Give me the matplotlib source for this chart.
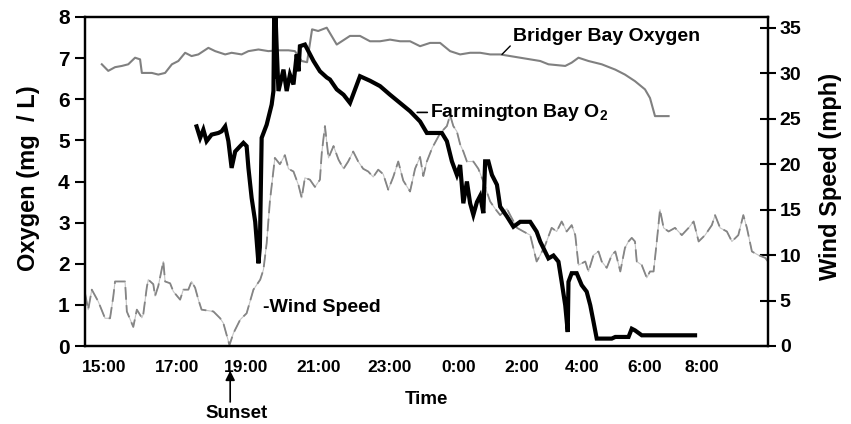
import matplotlib
matplotlib.use("Agg")
import matplotlib.pyplot as plt

plt.rcParams['font.family'] = ['Liberation Sans', 'DejaVu Sans']
plt.rcParams['font.weight'] = 'bold'
plt.rcParams['mathtext.fontset'] = 'custom'
plt.rcParams['mathtext.rm'] = 'Liberation Sans:bold'
plt.rcParams['mathtext.bf'] = 'Liberation Sans:bold'

# time in hours (24+ = after midnight)
bridger_t = [14.94, 15.12, 15.31, 15.50, 15.68, 15.87, 16.01, 16.06, 16.34, 16.52,
             16.71, 16.90, 17.08, 17.27, 17.45, 17.64, 17.92, 18.11, 18.39, 18.57,
             18.85, 19.04, 19.32, 19.60, 19.88, 20.16, 20.34, 20.53, 20.68, 20.82,
             20.99, 21.23, 21.51, 21.88, 22.16, 22.44, 22.72, 23.00, 23.28, 23.56,
             23.84, 24.12, 24.40, 24.68, 24.96, 25.24, 25.52, 25.80, 26.08, 26.36,
             26.64, 26.92, 27.20, 27.43, 27.90, 28.08, 28.27, 28.55, 28.92, 29.30,
             29.57, 29.85, 30.13, 30.27, 30.41, 30.79]
bridger_o2 = [6.85, 6.69, 6.78, 6.81, 6.85, 7.01, 6.97, 6.64, 6.64, 6.60,
              6.64, 6.85, 6.93, 7.13, 7.05, 7.09, 7.25, 7.17, 7.09, 7.13,
              7.09, 7.17, 7.21, 7.17, 7.19, 7.19, 7.17, 6.93, 6.90, 7.70,
              7.66, 7.74, 7.33, 7.54, 7.54, 7.41, 7.41, 7.45, 7.41, 7.41,
              7.29, 7.37, 7.37, 7.17, 7.09, 7.13, 7.13, 7.09, 7.09, 7.05,
              7.01, 6.97, 6.93, 6.85, 6.81, 6.89, 7.01, 6.93, 6.85, 6.72,
              6.60, 6.44, 6.24, 6.03, 5.59, 5.59]

farm_t = [17.59, 17.69, 17.78, 17.87, 18.01, 18.20, 18.29, 18.39, 18.48, 18.57,
          18.67, 18.81, 18.90, 18.99, 19.04, 19.13, 19.23, 19.32, 19.36, 19.41,
          19.55, 19.69, 19.74, 19.76, 19.78, 19.80, 19.83, 19.88, 20.02, 20.11,
          20.20, 20.30, 20.39, 20.44, 20.48, 20.62, 20.86, 21.04, 21.23, 21.32,
          21.51, 21.70, 21.88, 22.16, 22.44, 22.72, 23.00, 23.28, 23.56, 23.84,
          24.03, 24.31, 24.45, 24.59, 24.73, 24.87, 24.96, 25.05, 25.15, 25.24,
          25.33, 25.43, 25.52, 25.61, 25.66, 25.75, 25.85, 25.99, 26.08, 26.27,
          26.45, 26.64, 26.92, 27.10, 27.20, 27.43, 27.57, 27.71, 27.80, 27.90,
          27.97, 27.99, 28.08, 28.22, 28.36, 28.50, 28.60, 28.69, 28.78, 29.20,
          29.30, 29.67, 29.76, 29.85, 30.04, 31.53]
farm_o2 = [5.34, 5.06, 5.26, 4.98, 5.14, 5.18, 5.22, 5.34, 4.98, 4.33,
           4.73, 4.86, 4.94, 4.86, 4.33, 3.60, 3.02, 2.01, 2.40, 5.06,
           5.38, 5.87, 6.20, 8.00, 6.50, 8.00, 7.26, 6.20, 6.72, 6.20,
           6.60, 6.36, 7.09, 6.68, 7.29, 7.33, 6.93, 6.68, 6.53, 6.48,
           6.24, 6.11, 5.91, 6.56, 6.45, 6.32, 6.11, 5.91, 5.71, 5.46,
           5.18, 5.18, 5.18, 4.98, 4.49, 4.16, 4.40, 3.47, 4.00, 3.47,
           3.19, 3.50, 3.65, 3.23, 4.49, 4.49, 4.16, 3.92, 3.39, 3.15,
           2.90, 3.02, 3.02, 2.78, 2.54, 2.13, 2.20, 2.05, 1.56, 0.99,
           0.34, 1.56, 1.77, 1.77, 1.48, 1.32, 0.99, 0.59, 0.18, 0.18,
           0.22, 0.22, 0.42, 0.38, 0.26, 0.26]

wind_t = [14.47, 14.56, 14.66, 14.84, 15.03, 15.17, 15.26, 15.31, 15.59, 15.64,
          15.82, 15.92, 16.06, 16.10, 16.20, 16.24, 16.38, 16.43, 16.52, 16.66,
          16.71, 16.85, 16.94, 17.13, 17.22, 17.36, 17.45, 17.55, 17.64, 17.73,
          18.06, 18.25, 18.34, 18.51, 18.62, 18.81, 18.99, 19.18, 19.37, 19.46,
          19.55, 19.64, 19.78, 19.92, 20.06, 20.16, 20.30, 20.44, 20.53, 20.62,
          20.76, 20.90, 21.04, 21.09, 21.18, 21.28, 21.42, 21.56, 21.70, 21.83,
          21.97, 22.11, 22.25, 22.39, 22.53, 22.67, 22.81, 22.95, 23.09, 23.23,
          23.37, 23.56, 23.70, 23.84, 23.93, 24.03, 24.18, 24.40, 24.59, 24.68,
          24.77, 24.87, 24.96, 25.05, 25.15, 25.33, 25.47, 25.61, 25.80, 25.94,
          26.08, 26.27, 26.36, 26.55, 26.73, 26.92, 27.10, 27.20, 27.34, 27.52,
          27.66, 27.80, 27.94, 28.08, 28.18, 28.27, 28.46, 28.55, 28.69, 28.83,
          28.92, 29.06, 29.20, 29.30, 29.44, 29.57, 29.67, 29.76, 29.85, 29.90,
          30.04, 30.18, 30.27, 30.37, 30.46, 30.55, 30.65, 30.79, 30.97, 31.16,
          31.35, 31.49, 31.63, 31.81, 32.00, 32.09, 32.23, 32.42, 32.56, 32.74,
          32.88, 32.98, 33.12, 33.30, 33.49, 33.57]
wind_mph = [5.8, 4.0, 6.2, 4.9, 3.05, 3.05, 5.4, 7.1, 7.1, 3.8,
            2.1, 4.0, 3.1, 3.5, 6.5, 7.3, 6.8, 5.5, 6.6, 9.3,
            7.1, 6.9, 6.0, 5.1, 6.2, 6.2, 7.1, 6.4, 5.1, 4.0,
            3.8, 3.05, 2.5, 0.1, 1.4, 2.9, 3.6, 6.2, 7.3, 8.4,
            11.3, 15.9, 20.7, 20.0, 21.0, 19.5, 19.2, 17.7, 16.3, 18.5,
            18.3, 17.5, 18.3, 21.2, 24.2, 20.7, 22.0, 20.5, 19.5, 20.3,
            21.4, 20.3, 19.5, 19.2, 18.6, 19.4, 18.9, 17.2, 18.6, 20.3,
            18.2, 17.0, 19.5, 20.8, 18.7, 20.3, 21.8, 23.4, 24.2, 25.4,
            24.2, 23.6, 22.2, 21.4, 20.3, 20.3, 19.5, 18.1, 15.9, 15.1,
            14.4, 15.1, 14.4, 13.0, 12.6, 12.2, 9.3, 10.0, 11.1, 13.0,
            12.6, 13.7, 12.6, 13.3, 12.2, 8.9, 9.3, 8.2, 10.0, 10.4,
            9.3, 8.6, 10.0, 10.4, 8.2, 10.8, 11.5, 11.9, 11.5, 9.3,
            8.9, 7.5, 8.2, 8.2, 11.5, 15.0, 13.0, 12.6, 13.0, 12.2,
            13.0, 13.7, 11.5, 12.2, 13.3, 14.4, 13.0, 12.6, 11.5, 12.2,
            14.4, 13.0, 10.4, 10.0, 9.7, 9.3]

# where the time labels sit on the axis, and their text
tick_pos = [15.0, 17.04, 18.97, 20.99, 23.0, 24.93, 26.67, 28.37, 30.13, 31.72]
tick_lbl = ['15:00', '17:00', '19:00', '21:00', '23:00',
            '0:00', '2:00', '4:00', '6:00', '8:00']

fig = plt.figure(figsize=(8.51, 4.24), dpi=100)
ax = fig.add_axes([85 / 851, 1 - 346 / 424, 683 / 851, 329 / 424])
ax2 = ax.twinx()
ax.set_zorder(ax2.get_zorder() + 1)
ax.patch.set_visible(False)

# wind: light thin line under darker dashes
ax2.plot(wind_t, wind_mph, color='#c4c4c4', lw=0.8)
ax2.plot(wind_t, wind_mph, color='#858585', lw=1.3, linestyle=(0, (7, 3)))
ax.plot(bridger_t, bridger_o2, color='#808080', lw=1.5)
ax.plot(farm_t, farm_o2, color='black', lw=3.0, solid_joinstyle='miter')

ax.set_xlim(14.47, 33.57)
ax.set_ylim(0, 8)
ax2.set_ylim(0, 36.2)
ax.set_yticks(range(0, 9))
ax2.set_yticks(range(0, 36, 5))
ax.set_xticks(tick_pos)
ax.set_xticklabels(tick_lbl)

for a in (ax, ax2):
    for s in a.spines.values():
        s.set_linewidth(1.6)
ax.tick_params(axis='x', length=0, pad=10, labelsize=12.5)
ax.tick_params(axis='y', direction='out', length=7, width=1.5, pad=4, labelsize=15)
ax2.tick_params(axis='y', direction='inout', length=11, width=1.5, pad=3, labelsize=14)

ax.set_ylabel('Oxygen (mg  / L)', fontsize=17, fontweight='bold', ha='center', va='center')
ax.yaxis.set_label_coords(-0.082, 0.51)
ax2.set_ylabel('Wind Speed (mph)', fontsize=17, fontweight='bold', ha='center', va='center',
               rotation=90)
ax2.yaxis.set_label_coords(1.091, 0.514)
ax.set_xlabel('Time', fontsize=13.5, fontweight='bold', va='center')
ax.xaxis.set_label_coords(0.5, -0.164)

# labels on the curves
ax.text(19.45, 0.94, '-Wind Speed', fontsize=14, fontweight='bold', ha='left', va='center')
ax.annotate('Bridger Bay Oxygen', xy=(26.13, 7.09), xytext=(26.44, 7.53),
            fontsize=14, fontweight='bold', ha='left', va='center',
            arrowprops=dict(arrowstyle='-', color='black', lw=1, relpos=(0, 0.1),
                            shrinkA=0, shrinkB=0))
ax.annotate(r'Farmington Bay O$_{\mathbf{2}}$', xy=(23.76, 5.68), xytext=(24.12, 5.68),
            fontsize=14, fontweight='bold', ha='left', va='center',
            arrowprops=dict(arrowstyle='-', color='black', lw=1.2, relpos=(0, 0.5),
                            shrinkA=0, shrinkB=0))

# sunset marker below the axis
ax.annotate('', xy=(18.53, -0.075), xytext=(18.53, -0.17),
            xycoords=('data', 'axes fraction'), textcoords=('data', 'axes fraction'),
            arrowprops=dict(arrowstyle='-|>', color='black', lw=1.2, mutation_scale=14,
                            shrinkA=0, shrinkB=0), annotation_clip=False)
ax.text(18.72, -0.205, 'Sunset', transform=ax.get_xaxis_transform(), fontsize=13.5,
        fontweight='bold', ha='center', va='center')

fig.savefig('out.png', dpi=100)
